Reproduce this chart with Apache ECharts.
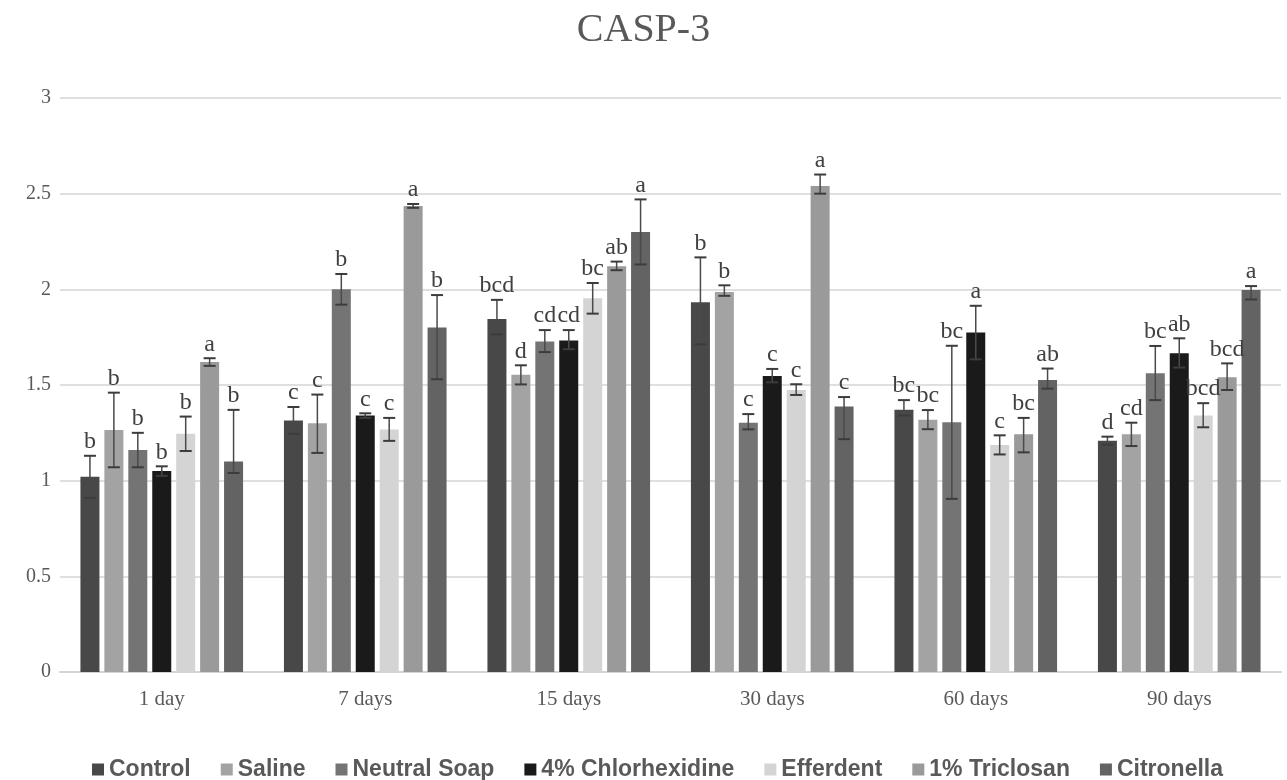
<!DOCTYPE html>
<html>
<head>
<meta charset="utf-8">
<title>CASP-3</title>
<script src="https://cdn.jsdelivr.net/npm/echarts@6/dist/echarts.min.js"></script>
<style>
html, body { margin: 0; padding: 0; background: #fff; }
#main { width: 1287px; height: 780px; }
</style>
</head>
<body>
<div id="main"></div>
<script>
// categories (time points) and treatments
var days = ['1 day', '7 days', '15 days', '30 days', '60 days', '90 days'];
var groups = ['Control', 'Saline', 'Neutral Soap', '4% Chlorhexidine', 'Efferdent', '1% Triclosan', 'Citronella'];
var colors = ['#484848', '#a3a3a3', '#747474', '#1a1a1a', '#d4d4d4', '#9a9a9a', '#636363'];

// mean values, one row per treatment (index follows days)
var control     = [1.02, 1.315, 1.845, 1.932, 1.371, 1.208];
var saline      = [1.265, 1.30, 1.553, 1.986, 1.319, 1.243];
var neutralSoap = [1.16, 2.00, 1.727, 1.303, 1.305, 1.561];
var chlorhex    = [1.05, 1.34, 1.732, 1.547, 1.774, 1.666];
var efferdent   = [1.245, 1.268, 1.953, 1.474, 1.187, 1.34];
var triclosan   = [1.62, 2.436, 2.12, 2.54, 1.243, 1.54];
var citronella  = [1.10, 1.80, 2.30, 1.387, 1.526, 1.997];

// error bar plus / minus
var errPlus = [
    [0.11, 0.07, 0.10, 0.235, 0.05, 0.022],
    [0.195, 0.15, 0.05, 0.035, 0.05, 0.06],
    [0.09, 0.08, 0.06, 0.045, 0.40, 0.143],
    [0.025, 0.012, 0.055, 0.037, 0.14, 0.078],
    [0.09, 0.06, 0.08, 0.03, 0.05, 0.065],
    [0.02, 0.01, 0.025, 0.06, 0.085, 0.073],
    [0.27, 0.17, 0.17, 0.05, 0.06, 0.02]
];
var errMinus = [
    [0.11, 0.07, 0.08, 0.22, 0.03, 0.02],
    [0.195, 0.155, 0.05, 0.02, 0.05, 0.062],
    [0.09, 0.08, 0.055, 0.035, 0.40, 0.14],
    [0.025, 0.012, 0.045, 0.033, 0.14, 0.075],
    [0.09, 0.06, 0.08, 0.026, 0.05, 0.061],
    [0.02, 0.01, 0.02, 0.04, 0.095, 0.066],
    [0.06, 0.27, 0.17, 0.17, 0.045, 0.05]
];

// significance letters
var letters = [
    ['b', 'c', 'bcd', 'b', 'bc', 'd'],
    ['b', 'c', 'd', 'b', 'bc', 'cd'],
    ['b', 'b', 'cd', 'c', 'bc', 'bc'],
    ['b', 'c', 'cd', 'c', 'a', 'ab'],
    ['b', 'c', 'bc', 'c', 'c', 'bcd'],
    ['a', 'a', 'ab', 'a', 'bc', 'bcd'],
    ['b', 'b', 'a', 'c', 'ab', 'a']
];

var values = [control, saline, neutralSoap, chlorhex, efferdent, triclosan, citronella];

var barW = 19;
var barGapPct = 0.26;
var step = barW * (1 + barGapPct);

var errData = [];
values.forEach(function (arr, s) {
    arr.forEach(function (v, c) {
        errData.push([c, s, v - errMinus[s][c], v + errPlus[s][c], letters[s][c]]);
    });
});

var chart = echarts.init(document.getElementById('main'));

var series = values.map(function (arr, i) {
    return {
        name: groups[i],
        type: 'bar',
        barWidth: barW,
        barGap: (barGapPct * 100) + '%',
        itemStyle: { color: colors[i] },
        data: arr
    };
});

// error bars + letters, placed on each bar of the group
series.push({
    type: 'custom',
    silent: true,
    z: 10,
    data: errData,
    renderItem: function (params, api) {
        var c = api.value(0);
        var s = api.value(1);
        var lo = api.coord([c, api.value(2)]);
        var hi = api.coord([c, api.value(3)]);
        var x = lo[0] + (s - 3) * step;
        var cap = 6;
        var st = { stroke: '#3c3c3c', lineWidth: 2 };
        return {
            type: 'group',
            children: [
                { type: 'line', shape: { x1: x, y1: lo[1], x2: x, y2: hi[1] }, style: { stroke: '#4a4a4a', lineWidth: 1.5 } },
                { type: 'line', shape: { x1: x - cap, y1: hi[1], x2: x + cap, y2: hi[1] }, style: st },
                { type: 'line', shape: { x1: x - cap, y1: lo[1], x2: x + cap, y2: lo[1] }, style: st },
                {
                    type: 'text',
                    style: {
                        x: x, y: hi[1] - 2,
                        text: errData[params.dataIndex][4],
                        textAlign: 'center', textVerticalAlign: 'bottom',
                        font: '24px "Liberation Serif", "Times New Roman", serif',
                        fill: '#404040'
                    }
                }
            ]
        };
    }
});

var option = {
    backgroundColor: '#fff',
    animation: false,
    title: {
        text: 'CASP-3',
        left: 'center',
        top: 5,
        textStyle: {
            fontFamily: '"Liberation Serif", "Times New Roman", serif',
            fontSize: 40,
            fontWeight: 'normal',
            color: '#595959'
        }
    },
    legend: {
        data: groups,
        left: 87,
        top: 753,
        icon: 'rect',
        itemWidth: 12,
        itemHeight: 12,
        itemGap: 30,
        textStyle: {
            fontFamily: '"Liberation Sans", Arial, sans-serif',
            fontSize: 23,
            fontWeight: 'bold',
            color: '#595959'
        }
    },
    grid: {
        left: 60,
        right: 6,
        top: 98,
        bottom: 108
    },
    xAxis: {
        type: 'category',
        data: days,
        axisTick: { show: false },
        axisLine: { lineStyle: { color: '#d4d4d4', width: 2 } },
        axisLabel: {
            margin: 17,
            fontFamily: '"Liberation Serif", "Times New Roman", serif',
            fontSize: 21,
            color: '#595959'
        }
    },
    yAxis: {
        type: 'value',
        min: 0,
        max: 3,
        interval: 0.5,
        axisLine: { show: false },
        axisTick: { show: false },
        splitLine: { lineStyle: { color: '#d4d4d4', width: 1.5 } },
        axisLabel: {
            margin: 9,
            fontFamily: '"Liberation Serif", "Times New Roman", serif',
            fontSize: 20,
            color: '#595959'
        }
    },
    series: series
};

chart.setOption(option);
window.addEventListener('resize', function () {
    chart.resize();
});
</script>
</body>
</html>
